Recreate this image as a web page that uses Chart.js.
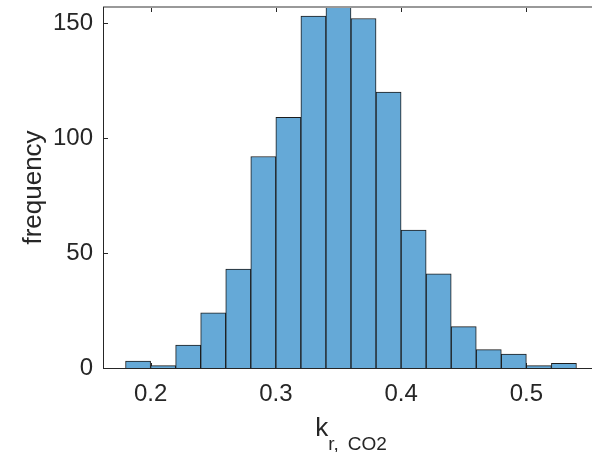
<!DOCTYPE html>
<html>
<head>
<meta charset="utf-8">
<script src="https://cdn.jsdelivr.net/npm/chart.js@4"></script>
<style>
  html, body { margin: 0; padding: 0; overflow: hidden; background: #fff; }
  #wrap { width: 610px; height: 452px; }
</style>
</head>
<body>
<div id="wrap"><canvas id="myChart" width="610" height="452"></canvas></div>
<script>
// histogram bins (centres, width 0.02) and counts
var binCenters = [0.19, 0.21, 0.23, 0.25, 0.27, 0.29, 0.31, 0.33, 0.35,
                  0.37, 0.39, 0.41, 0.43, 0.45, 0.47, 0.49, 0.51, 0.53];
var counts = [3, 1, 10, 24, 43, 92, 109, 153, 157,
              152, 120, 60, 41, 18, 8, 6, 1, 2];
var xTicks = [0.2, 0.3, 0.4, 0.5];
var yTicks = [0, 50, 100, 150];
var xLabelMain = 'k';
var xLabelSub = ['r,', 'CO2'];
var yLabel = 'frequency';

var FONT = '"Liberation Sans", Arial, sans-serif';
var TEXT = '#262626';

// axes box, inward ticks and axis labels like the MATLAB figure
var axesPlugin = {
    id: 'axesBox',
    beforeDatasetsDraw: function(chart) {
        var c = chart.ctx, a = chart.chartArea;
        var xs = chart.scales.x, ys = chart.scales.y;
        c.save();
        c.strokeStyle = TEXT;
        c.lineWidth = 1;
        c.beginPath();
        xTicks.forEach(function(v) {
            var px = Math.round(xs.getPixelForValue(v)) + 0.5;
            c.moveTo(px, a.top); c.lineTo(px, a.top + 5);
            c.moveTo(px, a.bottom); c.lineTo(px, a.bottom - 5);
        });
        yTicks.forEach(function(v) {
            var py = Math.round(ys.getPixelForValue(v)) + 0.5;
            c.moveTo(a.left, py); c.lineTo(a.left + 5, py);
        });
        c.stroke();
        c.restore();
    },
    afterDatasetsDraw: function(chart) {
        var c = chart.ctx, a = chart.chartArea;
        c.save();
        // top edge (light grey)
        c.strokeStyle = '#999999';
        c.lineWidth = 2;
        c.beginPath();
        c.moveTo(a.left, a.top); c.lineTo(a.right, a.top);
        c.stroke();
        // left and bottom axes
        c.strokeStyle = TEXT;
        c.lineWidth = 1;
        c.beginPath();
        c.moveTo(a.left + 0.5, a.top);
        c.lineTo(a.left + 0.5, a.bottom + 0.5);
        c.lineTo(a.right, a.bottom + 0.5);
        c.stroke();

        // y label
        c.fillStyle = TEXT;
        c.font = '26px ' + FONT;
        c.textAlign = 'center';
        c.textBaseline = 'middle';
        c.translate(34, (a.top + a.bottom) / 2);
        c.rotate(-Math.PI / 2);
        c.fillText(yLabel, 0, 0);
        c.setTransform(1, 0, 0, 1, 0, 0);

        // x label: k with subscript "r, CO2"
        c.textAlign = 'left';
        c.textBaseline = 'alphabetic';
        c.font = '26px ' + FONT;
        var wk = c.measureText(xLabelMain).width;
        c.font = '19px ' + FONT;
        var w1 = c.measureText(xLabelSub[0]).width;
        var gap = 9;
        var w2 = c.measureText(xLabelSub[1]).width;
        var total = wk + w1 + gap + w2;
        var x0 = (a.left + a.right) / 2 - total / 2;
        c.font = '26px ' + FONT;
        c.fillText(xLabelMain, x0, 436);
        c.font = '19px ' + FONT;
        c.fillText(xLabelSub[0], x0 + wk, 450);
        c.fillText(xLabelSub[1], x0 + wk + w1 + gap, 450);
        c.restore();
    }
};

var ctx = document.getElementById('myChart').getContext('2d');
var chart = new Chart(ctx, {
    type: 'bar',
    data: {
        datasets: [{
            label: 'frequency',
            data: binCenters.map(function(x, i) { return { x: x, y: counts[i] }; }),
            backgroundColor: 'rgb(101, 169, 215)',
            borderColor: '#1c1c1c',
            borderWidth: 1,
            barPercentage: 1,
            categoryPercentage: 1
        }]
    },
    options: {
        responsive: false,
        animation: false,
        devicePixelRatio: 1,
        layout: { padding: { top: 7, right: 11, left: 0, bottom: 0 } },
        plugins: { legend: { display: false }, tooltip: { enabled: false } },
        scales: {
            x: {
                type: 'linear',
                min: 0.162,
                max: 0.558,
                offset: false,
                grid: { display: false, drawTicks: false },
                border: { display: false },
                ticks: {
                    font: { size: 24, family: FONT },
                    color: TEXT,
                    padding: 12,
                    maxRotation: 0,
                    autoSkip: false,
                    callback: function(v) { return v.toFixed(1); }
                },
                afterBuildTicks: function(s) { s.ticks = xTicks.map(function(v) { return { value: v }; }); },
                afterFit: function(s) {
                    s.height = 84;
                    s.paddingLeft = 0; s.paddingRight = 0;
                }
            },
            y: {
                min: 0,
                max: 157,
                grid: { display: false, drawTicks: false },
                border: { display: false },
                ticks: {
                    font: { size: 24, family: FONT },
                    color: TEXT,
                    padding: 10
                },
                afterBuildTicks: function(s) { s.ticks = yTicks.map(function(v) { return { value: v }; }); },
                afterFit: function(s) {
                    s.width = 103;
                    s.paddingTop = 0; s.paddingBottom = 0;
                }
            }
        }
    },
    plugins: [axesPlugin]
});
</script>
</body>
</html>
